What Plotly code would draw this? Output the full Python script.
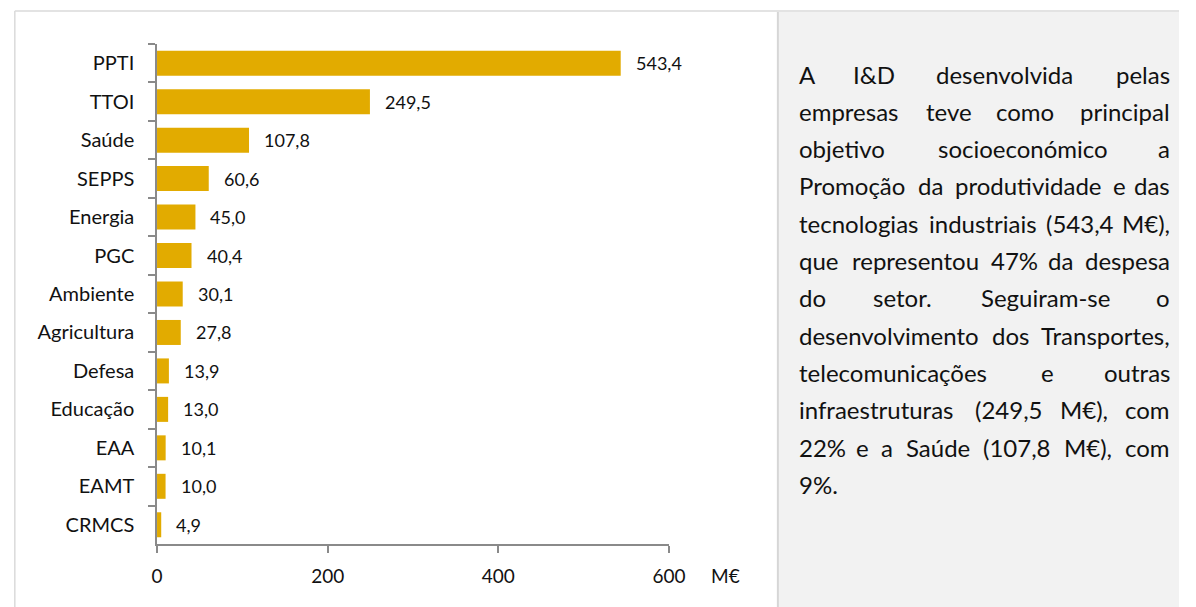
import plotly.graph_objects as go

# Despesa em I&D das empresas por objetivo socioeconómico (M€)
categories = ["PPTI", "TTOI", "Saúde", "SEPPS", "Energia", "PGC", "Ambiente",
              "Agricultura", "Defesa", "Educação", "EAA", "EAMT", "CRMCS"]
values = [543.4, 249.5, 107.8, 60.6, 45.0, 40.4, 30.1, 27.8, 13.9, 13.0, 10.1, 10.0, 4.9]
x_ticks = [0, 200, 400, 600]
unit_label = "M€"

W, H = 1196, 607
FONT = "Lato"
BAR = "#E2AB00"
AXIS = "#8A8A8A"
INK = "#111111"


def fmt(v):
    return f"{v:.1f}".replace(".", ",")


def px_x(x):
    return x / W


def px_y(y):
    return 1 - y / H


text_lines = [
    "A I&D desenvolvida pelas",
    "empresas teve como principal",
    "objetivo socioeconómico a",
    "Promoção da produtividade e das",
    f"tecnologias industriais ({fmt(values[0])} M€),",
    "que representou 47% da despesa",
    "do setor. Seguiram-se o",
    "desenvolvimento dos Transportes,",
    "telecomunicações e outras",
    f"infraestruturas ({fmt(values[1])} M€), com",
    f"22% e a {categories[2]} ({fmt(values[2])} M€), com",
    "9%.",
]

fig = go.Figure()
fig.add_trace(go.Bar(
    y=categories, x=values, orientation="h",
    marker=dict(color=BAR, line=dict(width=0)),
    width=0.65, hoverinfo="skip",
))

annotations = []
for c, v in zip(categories, values):
    annotations.append(dict(
        x=v, y=c, xref="x", yref="y", text=fmt(v), showarrow=False,
        xanchor="left", yanchor="middle", xshift=14, borderpad=0,
        font=dict(family=FONT, size=18, color=INK),
    ))

annotations.append(dict(
    x=px_x(733.5), y=px_y(575), xref="paper", yref="paper", text=unit_label,
    showarrow=False, xanchor="center", yanchor="middle", borderpad=0,
    font=dict(family=FONT, size=19, color=INK),
))

# Calibri-style advance widths (units per 2048 em) used to lay out justified lines
cw = {
    "a": 981, "b": 1076, "c": 866, "d": 1076, "e": 1019, "f": 625, "g": 964, "h": 1076,
    "i": 470, "j": 490, "k": 931, "l": 470, "m": 1636, "n": 1076, "o": 1080, "p": 1076,
    "q": 1076, "r": 714, "s": 799, "t": 686, "u": 1076, "v": 925, "w": 1464, "x": 887,
    "y": 927, "z": 809, "A": 1185, "D": 1260, "I": 516, "M": 1751, "P": 1064, "S": 941,
    "T": 998, ",": 511, ".": 517, "(": 621, ")": 621, "%": 1474, "€": 1038, "&": 1397,
    "-": 627,
}
plain = str.maketrans("çãóúéõíáâ", "caoueoiaa")
LAYOUT_EM = 27  # em size the justified layout is computed for


def word_w(word):
    total = 0
    for ch in word.translate(plain):
        total += 1038 if ch.isdigit() else cw.get(ch, 1000)
    return total / 2048 * LAYOUT_EM


TXT_SIZE = 24
x_left, x_right = 808, 1188
y0, dy = 74, 37.3
for i, line in enumerate(text_lines):
    y = px_y(y0 + i * dy)
    words = line.split(" ")
    font = dict(family=FONT, size=TXT_SIZE, color=INK)
    if i == len(text_lines) - 1 or len(words) == 1:
        annotations.append(dict(x=px_x(x_left), y=y, xref="paper", yref="paper",
                                text=line, showarrow=False, xanchor="left",
                                yanchor="middle", borderpad=0, font=font))
        continue
    widths = [word_w(w) for w in words]
    gap = (x_right - x_left - sum(widths)) / (len(words) - 1)
    pos = x_left
    for j, (w, wd) in enumerate(zip(words, widths)):
        if j == 0:
            x, anchor = pos, "left"
        elif j == len(words) - 1:
            x, anchor = x_right, "right"
        else:
            x, anchor = pos + wd / 2, "center"
        annotations.append(dict(x=px_x(x), y=y, xref="paper", yref="paper",
                                text=w, showarrow=False, xanchor=anchor,
                                yanchor="middle", borderpad=0, font=font))
        pos += wd + gap

shapes = [
    # side panel
    dict(type="rect", xref="paper", yref="paper", x0=px_x(787), x1=1, y0=0, y1=px_y(12),
         fillcolor="#F2F2F2", line=dict(width=0), layer="below"),
    dict(type="line", xref="paper", yref="paper", x0=px_x(787), x1=px_x(787), y0=0, y1=px_y(12),
         line=dict(color="#D6D6D6", width=2)),
    # chart frame
    dict(type="line", xref="paper", yref="paper", x0=px_x(9), x1=1, y0=px_y(11), y1=px_y(11),
         line=dict(color="#DADADA", width=1.5)),
    dict(type="line", xref="paper", yref="paper", x0=px_x(9), x1=px_x(9), y0=0, y1=px_y(11),
         line=dict(color="#DADADA", width=1.5)),
]

fig.update_layout(
    width=W, height=H, autosize=False, margin=dict(l=0, r=0, t=0, b=0, pad=0),
    paper_bgcolor="white", plot_bgcolor="rgba(0,0,0,0)",
    showlegend=False, bargap=0.35,
    font=dict(family=FONT, size=18, color=INK),
    annotations=annotations, shapes=shapes,
    xaxis=dict(
        domain=[px_x(154), px_x(676)], range=[0, 600], tickvals=x_ticks,
        ticktext=[str(t) for t in x_ticks],
        showline=True, linecolor=AXIS, linewidth=1.5, ticks="outside",
        ticklen=7, tickcolor=AXIS, tickwidth=1.5, showgrid=False, zeroline=False,
        tickfont=dict(family=FONT, size=19, color=INK), ticklabelstandoff=7,
    ),
    yaxis=dict(
        domain=[px_y(544), px_y(44)], type="category", categoryorder="array",
        categoryarray=categories, autorange="reversed",
        showline=True, linecolor=AXIS, linewidth=1.5, ticks="outside",
        ticklen=7, tickcolor=AXIS, tickwidth=1.5, tickson="boundaries",
        showgrid=False, zeroline=False,
        tickfont=dict(family=FONT, size=20, color=INK), ticklabelstandoff=17,
    ),
)

fig.write_html("out.html", config={"responsive": False})
